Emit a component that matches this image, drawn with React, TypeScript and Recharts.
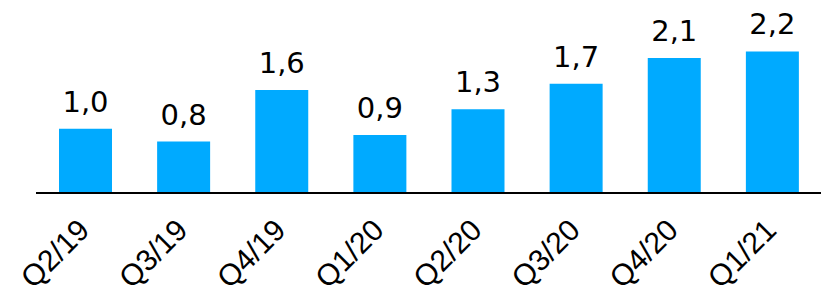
import React from "react";
import { BarChart, Bar, XAxis, YAxis, LabelList } from "recharts";

const categories = ["Q2/19", "Q3/19", "Q4/19", "Q1/20", "Q2/20", "Q3/20", "Q4/20", "Q1/21"];
const values = [1.0, 0.8, 1.6, 0.9, 1.3, 1.7, 2.1, 2.2];

const data = categories.map((c, i) => ({ name: c, value: values[i] }));

const fmt = (v: number) => v.toFixed(1).replace(".", ",");

const Tick = (props: any) => {
  const { x, y, payload } = props;
  return (
    <g transform={`translate(${x + 6},${y + 31}) rotate(-45)`}>
      <text
        x={0}
        y={0}
        textAnchor="end"
        fontFamily="'Liberation Sans', Arial, sans-serif"
        fontSize={30}
        fill="#000"
      >
        {payload.value}
      </text>
    </g>
  );
};

const Label = (props: any) => {
  const { x, y, width, value } = props;
  return (
    <text
      x={x + width / 2}
      y={y - 17}
      textAnchor="middle"
      fontFamily="'DejaVu Sans', Verdana, sans-serif"
      fontSize={29}
      fill="#000"
    >
      {fmt(value)}
    </text>
  );
};

export default function App() {
  return (
    <div style={{ position: "fixed", left: 0, top: 0, background: "#fff" }}>
      <BarChart
        width={821}
        height={295}
        data={data}
        margin={{ top: 0, right: 0, bottom: 0, left: 36 }}
      >
        <XAxis
          dataKey="name"
          axisLine={{ stroke: "#000", strokeWidth: 2 }}
          tickLine={false}
          tick={<Tick />}
          interval={0}
          height={102}
        />
        <YAxis hide domain={[0, 3]} />
        <Bar dataKey="value" fill="#00AAFF" barSize={53} isAnimationActive={false}>
          <LabelList dataKey="value" content={<Label />} />
        </Bar>
      </BarChart>
    </div>
  );
}
